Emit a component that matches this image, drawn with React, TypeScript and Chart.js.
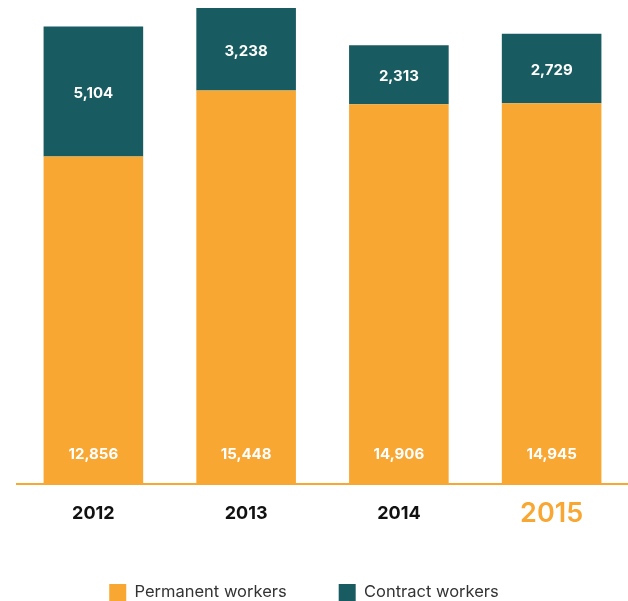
import React, { useEffect, useRef } from "react";
import { Chart, registerables } from "chart.js";

Chart.register(...registerables);

const years = ["2012", "2013", "2014", "2015"];
const permanentWorkers = [12856, 15448, 14906, 14945];
const contractWorkers = [5104, 3238, 2313, 2729];
const seriesNames = ["Permanent workers", "Contract workers"];

const ORANGE = "#F9A733";
const TEAL = "#185B61";
const FONT = "Inter, 'Open Sans', sans-serif";

const valueLabels = {
  id: "valueLabels",
  afterDatasetsDraw(chart: any) {
    const ctx = chart.ctx;
    ctx.save();
    ctx.fillStyle = "#ffffff";
    ctx.font = `700 15px ${FONT}`;
    ctx.textAlign = "center";
    ctx.textBaseline = "middle";
    chart.data.datasets.forEach((ds: any, di: number) => {
      const meta = chart.getDatasetMeta(di);
      meta.data.forEach((el: any, i: number) => {
        const v = ds.data[i] as number;
        const txt = v.toLocaleString("en-US");
        const y = di === 0 ? el.base - 30 : (el.y + el.base) / 2 + 2;
        ctx.fillText(txt, el.x, y);
      });
    });
    ctx.restore();
  },
};

// shift the centred legend row a little to the left, as in the reference
const legendShift = {
  id: "legendShift",
  afterLayout(chart: any) {
    const lg = chart.legend;
    if (lg && lg.lineWidths && lg.lineWidths.length) {
      lg.lineWidths[0] += 37;
    }
  },
};

export default function App() {
  const ref = useRef<HTMLCanvasElement>(null);
  useEffect(() => {
    if (!ref.current) return;
    const chart = new Chart(ref.current, {
      type: "bar",
      data: {
        labels: years,
        datasets: [
          {
            label: seriesNames[0],
            data: permanentWorkers,
            backgroundColor: ORANGE,
            barPercentage: 0.652,
            categoryPercentage: 1,
          },
          {
            label: seriesNames[1],
            data: contractWorkers,
            backgroundColor: TEAL,
            barPercentage: 0.652,
            categoryPercentage: 1,
          },
        ],
      },
      options: {
        responsive: false,
        animation: false,
        layout: { padding: { left: 17, right: 0, top: 0, bottom: -10 } },
        scales: {
          x: {
            stacked: true,
            grid: { display: false, drawTicks: false },
            border: { display: true, color: ORANGE, width: 2 },
            ticks: {
              padding: 15,
              color: (c: any) => (c.index === 3 ? ORANGE : "#111111"),
              font: (c: any) =>
                c.index === 3
                  ? { family: FONT, size: 27, weight: "600", lineHeight: "30px" }
                  : { family: FONT, size: 18, weight: "700", lineHeight: "30px" },
            },
            afterFit: (scale: any) => {
              scale.height = 48;
            },
          },
          y: {
            stacked: true,
            display: false,
            min: 0,
            max: 19000,
          },
        },
        plugins: {
          tooltip: { enabled: false },
          legend: {
            position: "bottom",
            labels: {
              boxWidth: 17,
              boxHeight: 17,
              padding: 52,
              color: "#333333",
              font: { family: FONT, size: 16.5, weight: "400" },
            },
          },
        },
      },
      plugins: [valueLabels, legendShift],
    });
    return () => chart.destroy();
  }, []);
  return (
    <div style={{ position: "absolute", left: 0, top: 0, width: 628, height: 601 }}>
      <canvas ref={ref} width={628} height={601} />
    </div>
  );
}
